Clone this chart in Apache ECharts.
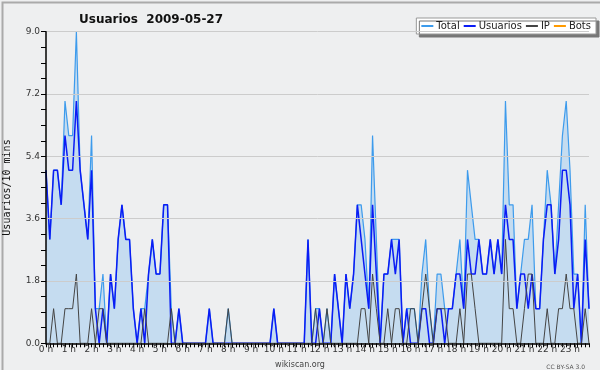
<!DOCTYPE html>
<html><head><meta charset="utf-8">
<script src="https://cdn.jsdelivr.net/npm/echarts@6/dist/echarts.min.js"></script>
<style>html,body{margin:0;padding:0;background:#fff}#c{width:600px;height:370px}</style>
</head><body><div id="c"></div>
<script>
// 10-minute slots, 0..143 (index / 6 = hour)
const hourLabels = ["0 h","1 h","2 h","3 h","4 h","5 h","6 h","7 h","8 h","9 h","10 h","11 h","12 h","13 h","14 h","15 h","16 h","17 h","18 h","19 h","20 h","21 h","22 h","23 h"];
const yTicks = [0, 1.8, 3.6, 5.4, 7.2, 9.0];
const total = [
5,3,5,5,4,7,6,6,9,5,4,3,6,1,1,2,0,2,1,3,4,3,3,1,0,1,1,2,3,2,2,4,4,1,0,1,
0,0,0,0,0,0,0,1,0,0,0,0,1,0,0,0,0,0,0,0,0,0,0,0,1,0,0,0,0,0,0,0,0,3,0,1,
1,0,1,0,2,1,0,2,1,2,4,4,3,1,6,3,0,2,2,3,3,3,0,1,1,1,0,2,3,1,0,2,2,1,1,1,
2,3,1,5,4,3,3,2,2,3,2,3,2,7,4,4,1,2,3,3,4,1,1,3,5,4,2,4,6,7,5,2,2,0,4,1];
const usuarios = [
5,3,5,5,4,6,5,5,7,5,4,3,5,1,0,1,0,2,1,3,4,3,3,1,0,1,0,2,3,2,2,4,4,0,0,1,
0,0,0,0,0,0,0,1,0,0,0,0,0,0,0,0,0,0,0,0,0,0,0,0,1,0,0,0,0,0,0,0,0,3,0,0,
1,0,0,0,2,1,0,2,1,2,4,3,2,1,4,2,0,2,2,3,2,3,0,1,0,0,0,1,1,0,0,1,1,0,1,1,
2,2,1,3,2,2,3,2,2,3,2,3,2,4,3,3,1,2,2,1,2,1,1,3,4,4,2,3,5,5,4,1,2,0,3,1];
const ip = [
0,0,1,0,0,1,1,1,2,0,0,0,1,0,1,1,0,0,0,0,0,0,0,0,0,0,1,0,0,0,0,0,0,1,0,0,
0,0,0,0,0,0,0,0,0,0,0,0,1,0,0,0,0,0,0,0,0,0,0,0,0,0,0,0,0,0,0,0,0,0,0,1,
0,0,1,0,0,0,0,0,0,0,0,1,1,0,2,1,0,0,1,0,1,1,0,0,1,1,0,1,2,1,0,1,1,1,0,0,
0,1,0,2,2,1,0,0,0,0,0,0,0,3,1,1,0,0,1,2,2,0,0,0,1,0,0,1,1,2,1,1,0,0,1,0];
const bots = new Array(144).fill(0);

const pts = a => a.map((v, i) => [i, v]);
const font = 'DejaVu Sans';
const chart = echarts.init(document.getElementById('c'), null, {renderer: 'canvas'});
chart.setOption({
  backgroundColor: '#eeeff0',
  animation: false,
  title: [
    {text: 'Usuarios  2009-05-27', left: 74, top: 9,
     textStyle: {fontFamily: font, fontSize: 12, fontWeight: 'bold', color: '#111'}},
    {text: 'wikiscan.org', left: 'center', top: 356,
     textStyle: {fontFamily: font, fontSize: 8, fontWeight: 'normal', color: '#444'}},
    {text: 'CC BY-SA 3.0', right: 10, top: 359,
     textStyle: {fontFamily: font, fontSize: 6, fontWeight: 'normal', color: '#555'}}
  ],
  legend: {
    right: 4, top: 18, orient: 'horizontal',
    backgroundColor: '#fff', borderColor: '#999', borderWidth: 1,
    shadowColor: '#777', shadowOffsetX: 3, shadowOffsetY: 3, shadowBlur: 0,
    padding: [3, 5, 3, 5], itemGap: 4, itemWidth: 12, itemHeight: 2, icon: 'rect',
    textStyle: {fontFamily: font, fontSize: 10, color: '#222', padding: [0,0,0,-2]},
    data: ['Total', 'Usuarios', 'IP', 'Bots']
  },
  grid: {left: 46, right: 11, top: 31.7, bottom: 26.7, show: false, outerBoundsMode: 'none', containLabel: false},
  xAxis: {
    type: 'value', min: 0, max: 143, interval: 6, z: 10,
    axisLine: {show: true, onZero: false, lineStyle: {color: '#000', width: 1.5}},
    axisTick: {show: true, length: 4, lineStyle: {color: '#000'}},
    minorTick: {show: true, splitNumber: 6, length: 4, lineStyle: {color: '#000'}},
    splitLine: {show: false},
    axisLabel: {fontFamily: font, fontSize: 9, color: '#333', margin: 2,
      formatter: v => hourLabels[v / 6] || ''}
  },
  yAxis: {
    type: 'value', min: 0, max: 9, interval: 1.8, z: 10,
    name: 'Usuarios/10 mins', nameLocation: 'middle', nameGap: 34, nameRotate: 90,
    nameTextStyle: {fontFamily: 'DejaVu Sans Mono', fontSize: 10, color: '#111'},
    axisLine: {show: true, lineStyle: {color: '#000', width: 1.5}},
    axisTick: {show: true, length: 5, lineStyle: {color: '#000'}},
    minorTick: {show: true, splitNumber: 4, length: 5, lineStyle: {color: '#000'}},
    splitLine: {show: true, lineStyle: {color: '#cccccc', width: 1}},
    axisLabel: {fontFamily: font, fontSize: 9, color: '#333', margin: 6,
      formatter: v => { const t = yTicks.find(x => Math.abs(x - v) < 1e-6); return t === undefined ? '' : t.toFixed(1); }}
  },
  series: [
    {name: 'Total', type: 'line', data: pts(total), showSymbol: false, symbol: 'none',
     lineStyle: {color: '#3d9bec', width: 1.2}, itemStyle: {color: '#3d9bec'},
     areaStyle: {color: '#c5dcf0', opacity: 1}, z: 2},
    {name: 'Usuarios', type: 'line', data: pts(usuarios), showSymbol: false, symbol: 'none',
     lineStyle: {color: '#0a1cf5', width: 1.5}, itemStyle: {color: '#0a1cf5'}, z: 3},
    {name: 'IP', type: 'line', data: pts(ip), showSymbol: false, symbol: 'none',
     lineStyle: {color: '#444', width: 1}, itemStyle: {color: '#444'}, z: 4},
    {name: 'Bots', type: 'line', data: pts(bots), showSymbol: false, symbol: 'none',
     lineStyle: {color: '#ff9a00', width: 1}, itemStyle: {color: '#ff9a00'}, z: 1}
  ],
  graphic: [{type: 'rect', left: 0, top: 0, shape: {width: 599, height: 369},
    style: {fill: 'none', stroke: '#aaa', lineWidth: 2}, silent: true}]
});
</script></body></html>
